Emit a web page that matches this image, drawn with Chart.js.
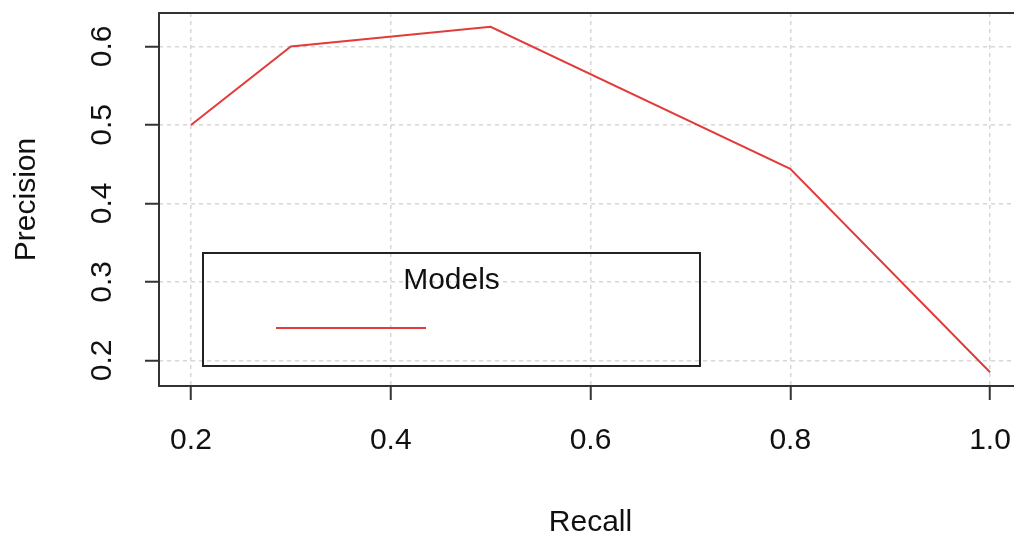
<!DOCTYPE html>
<html>
<head>
<meta charset="utf-8">
<script src="https://cdn.jsdelivr.net/npm/chart.js@4"></script>
<style>
  html, body { margin: 0; padding: 0; background: #fff; overflow: hidden; }
  #wrap { width: 1014px; height: 538px; overflow: hidden; }
</style>
</head>
<body>
<div id="wrap"><canvas id="prChart" width="1022" height="538"></canvas></div>
<script>
// Precision / recall curve
const recall = [0.2, 0.3, 0.5, 0.8, 1.0];
const precision = [0.5, 0.6, 0.625, 0.444, 0.185];
const xTicks = [0.2, 0.4, 0.6, 0.8, 1.0];
const yTicks = [0.2, 0.3, 0.4, 0.5, 0.6];
const legendTitle = 'Models';

const FONT = "'Liberation Sans', Arial, sans-serif";
const LINE_RED = '#e23b3b';

// R-style full box around the plot region
const boxPlugin = {
    id: 'plotBox',
    afterDraw(chart) {
        const a = chart.chartArea;
        const c = chart.ctx;
        c.save();
        c.strokeStyle = '#333';
        c.lineWidth = 2;
        c.strokeRect(a.left, a.top, a.right - a.left, a.bottom - a.top);
        c.restore();
    }
};

// legend box with title and a single line sample (no label), transparent background
const rLegend = {
    id: 'rLegend',
    afterDatasetsDraw(chart) {
        const a = chart.chartArea;
        const c = chart.ctx;
        const left = a.left + 44, top = a.top + 240, w = 497, h = 113;
        c.save();
        c.strokeStyle = '#222';
        c.lineWidth = 2;
        c.strokeRect(left, top, w, h);
        c.fillStyle = '#111';
        c.font = '30px ' + FONT;
        c.textAlign = 'center';
        c.textBaseline = 'middle';
        c.fillText(legendTitle, left + w / 2, top + 28);
        c.strokeStyle = LINE_RED;
        c.lineWidth = 2;
        c.beginPath();
        c.moveTo(left + 73, top + 75);
        c.lineTo(left + 223, top + 75);
        c.stroke();
        c.restore();
    }
};

const points = recall.map((r, i) => ({ x: r, y: precision[i] }));

new Chart(document.getElementById('prChart'), {
    type: 'scatter',
    data: {
        datasets: [{
            data: points,
            showLine: true,
            borderColor: LINE_RED,
            borderWidth: 2,
            pointRadius: 0,
            tension: 0
        }]
    },
    options: {
        responsive: false,
        animation: false,
        layout: { padding: { top: 13, left: 0, right: 0, bottom: 0 } },
        plugins: {
            legend: { display: false },
            tooltip: { enabled: false }
        },
        scales: {
            x: {
                type: 'linear',
                position: 'bottom',
                min: 0.168,
                max: 1.032,
                afterBuildTicks: (s) => { s.ticks = xTicks.map(v => ({ value: v })); },
                afterFit: (s) => {
                    s.height = 152;
                    s.paddingLeft = 0;
                    s.paddingRight = 0;
                },
                ticks: {
                    callback: (v) => v.toFixed(1),
                    font: { family: FONT, size: 30, lineHeight: 1.2 },
                    color: '#111',
                    padding: 23,
                    maxRotation: 0,
                    autoSkip: false
                },
                grid: {
                    color: '#d6d6d6',
                    lineWidth: 1.5,
                    tickColor: '#333',
                    tickWidth: 2,
                    tickLength: 14,
                    tickBorderDash: []
                },
                border: { display: false, dash: [4, 4] },
                title: {
                    display: true,
                    text: 'Recall',
                    color: '#111',
                    font: { family: FONT, size: 30, lineHeight: 1 },
                    padding: { top: 1, bottom: 0 }
                }
            },
            y: {
                type: 'linear',
                position: 'left',
                min: 0.1674,
                max: 0.6426,
                afterBuildTicks: (s) => { s.ticks = yTicks.map(v => ({ value: v })); },
                afterFit: (s) => {
                    s.width = 159;
                    s.paddingTop = 0;
                    s.paddingBottom = 0;
                },
                ticks: {
                    callback: (v) => v.toFixed(1),
                    font: { family: FONT, size: 30, lineHeight: 1.2 },
                    color: '#111',
                    padding: 21,
                    minRotation: 90,
                    maxRotation: 90,
                    crossAlign: 'center',
                    autoSkip: false
                },
                grid: {
                    color: '#d6d6d6',
                    lineWidth: 1.5,
                    tickColor: '#333',
                    tickWidth: 2,
                    tickLength: 14,
                    tickBorderDash: []
                },
                border: { display: false, dash: [4, 4] },
                title: {
                    display: true,
                    text: 'Precision',
                    color: '#111',
                    font: { family: FONT, size: 30, lineHeight: 1 },
                    padding: { top: 12, bottom: 0 }
                }
            }
        }
    },
    plugins: [boxPlugin, rLegend]
});
</script>
</body>
</html>
